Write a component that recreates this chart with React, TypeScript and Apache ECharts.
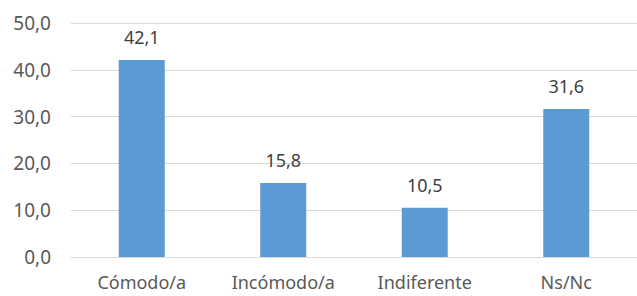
import React, { useEffect, useRef } from "react";
import * as echarts from "echarts";

const categories = ["Cómodo/a", "Incómodo/a", "Indiferente", "Ns/Nc"];
const values = [42.1, 15.8, 10.5, 31.6];

const fmt = (v: number) => v.toFixed(1).replace(".", ",");

export default function App() {
  const ref = useRef<HTMLDivElement>(null);
  useEffect(() => {
    const chart = echarts.init(ref.current!, null, { renderer: "svg" });
    chart.setOption({
      animation: false,
      textStyle: { fontFamily: "Noto Sans" },
      grid: { left: 71, top: 23, width: 574, height: 234, containLabel: false },
      xAxis: {
        type: "category",
        data: categories,
        axisLine: { lineStyle: { color: "#d9d9d9", width: 1 } },
        axisTick: { show: false },
        axisLabel: { color: "#595959", fontSize: 18, margin: 16, fontFamily: "Noto Sans" },
      },
      yAxis: {
        type: "value",
        min: 0,
        max: 50,
        interval: 10,
        axisLine: { show: false },
        axisTick: { show: false },
        splitLine: { lineStyle: { color: "#d9d9d9", width: 1 } },
        axisLabel: {
          color: "#595959",
          fontSize: 19,
          margin: 20,
          fontFamily: "Noto Sans",
          formatter: (v: number) => fmt(v),
        },
      },
      series: [
        {
          type: "bar",
          data: values,
          barWidth: 46,
          itemStyle: { color: "#5b9bd5" },
          label: {
            show: true,
            position: "top",
            distance: 14,
            color: "#404040",
            fontSize: 18,
            fontFamily: "Noto Sans",
            formatter: (p: any) => fmt(p.value),
          },
        },
      ],
    });
    return () => chart.dispose();
  }, []);
  return (
    <div
      ref={ref}
      style={{ position: "fixed", left: 0, top: 0, width: 637, height: 296, background: "#fff" }}
    />
  );
}
